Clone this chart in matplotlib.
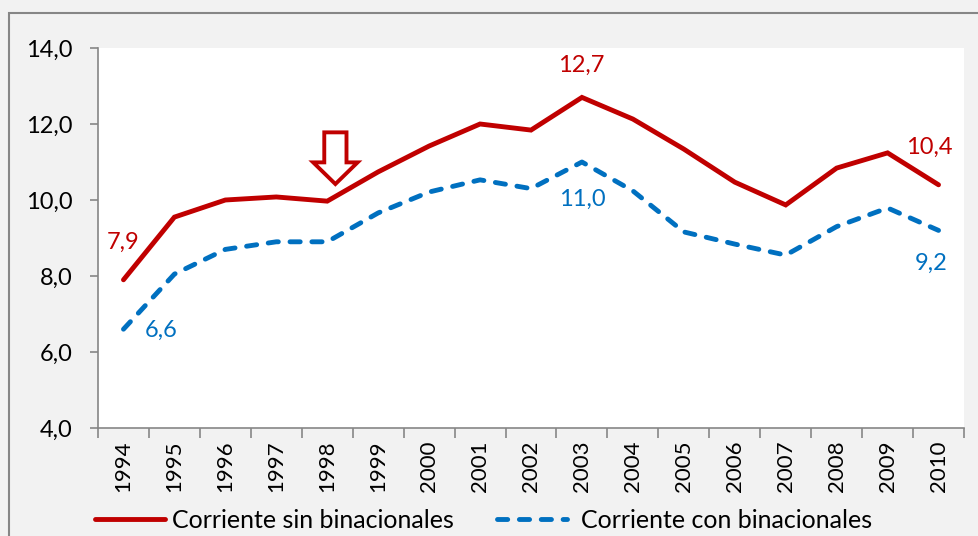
import matplotlib
matplotlib.use("Agg")
import matplotlib.pyplot as plt
from matplotlib.patches import Rectangle

plt.rcParams['font.family'] = ['Lato', 'DejaVu Sans']

years = ['1994', '1995', '1996', '1997', '1998', '1999', '2000', '2001', '2002',
         '2003', '2004', '2005', '2006', '2007', '2008', '2009', '2010']
sin_bin = [7.9, 9.55, 10.0, 10.08, 9.97, 10.74, 11.42, 12.0, 11.84, 12.7,
           12.13, 11.34, 10.47, 9.87, 10.84, 11.24, 10.4]
con_bin = [6.6, 8.05, 8.7, 8.9, 8.9, 9.66, 10.21, 10.53, 10.3, 11.0,
           10.24, 9.16, 8.84, 8.55, 9.3, 9.79, 9.2]
yticks = [4, 6, 8, 10, 12, 14]

RED = '#C00000'
BLUE = '#0070C0'
GRAY = '#868686'
FS = 17

fig = plt.figure(figsize=(9.79, 5.36), dpi=100)
fig.patch.set_facecolor('#F2F2F2')
fig.patches.append(Rectangle((9/979, -0.1), 1.1, 1 - 13/536 + 0.1, transform=fig.transFigure,
                             fill=False, edgecolor=GRAY, lw=1.5))

ax = fig.add_axes([98/979, 1 - 428/536, 866/979, 380/536])
ax.set_facecolor('white')
x = list(range(len(years)))
l1, = ax.plot(x, sin_bin, color=RED, lw=3.5, solid_joinstyle='miter', solid_capstyle='round',
              label='Corriente sin binacionales')
l2, = ax.plot(x, con_bin, color=BLUE, lw=3.5, dashes=(2.1, 2.4), dash_capstyle='round',
              label='Corriente con binacionales')

ax.set_xlim(-0.5, len(years) - 0.5)
ax.set_ylim(4, 14)
ax.set_yticks(yticks)
ax.set_yticklabels([f'{v:.1f}'.replace('.', ',') for v in yticks], fontsize=FS)
ax.set_xticks([i - 0.5 for i in range(len(years) + 1)])
ax.set_xticklabels([])
ax.set_xticks(x, minor=True)
ax.set_xticklabels(years, minor=True, rotation=90, fontsize=FS - 1)
ax.tick_params(axis='x', which='major', length=7, color=GRAY, width=1.2)
ax.tick_params(axis='x', which='minor', length=0, pad=9)
ax.tick_params(axis='y', length=6, color=GRAY, width=1.2, pad=12)
for s in ['top', 'right']:
    ax.spines[s].set_visible(False)
for s in ['left', 'bottom']:
    ax.spines[s].set_color(GRAY)
    ax.spines[s].set_linewidth(1.2)

lab = dict(fontsize=FS, ha='center', va='center', textcoords='offset points')
def fmt(v):
    return f'{v:.1f}'.replace('.', ',')
ax.annotate(fmt(sin_bin[0]), (0, sin_bin[0]), xytext=(-0.5, 27), color=RED, **lab)
ax.annotate(fmt(con_bin[0]), (0, con_bin[0]), xytext=(27, -0.5), color=BLUE, **lab)
ax.annotate(fmt(sin_bin[9]), (9, sin_bin[9]), xytext=(-0.5, 23), color=RED, **lab)
ax.annotate(fmt(con_bin[9]), (9, con_bin[9]), xytext=(0, -27), color=BLUE, **lab)
ax.annotate(fmt(sin_bin[16]), (16, sin_bin[16]), xytext=(-6.5, 27), color=RED, **lab)
ax.annotate(fmt(con_bin[16]), (16, con_bin[16]), xytext=(-5, -24), color=BLUE, **lab)

# hollow arrow pointing at 1998
ax.annotate('', xy=(4.16, 10.42), xytext=(4.16, 11.78),
            arrowprops=dict(arrowstyle='simple,head_length=0.78,head_width=1.6,tail_width=0.8',
                            fc='white', ec=RED, lw=2.8, mutation_scale=20,
                            shrinkA=0, shrinkB=0, joinstyle='miter'))

leg_kw = dict(loc='center left', frameon=False, fontsize=18, handlelength=2.8,
              borderaxespad=0, borderpad=0)
leg1 = fig.legend(handles=[l1], labels=[l1.get_label()], handletextpad=0.3,
                  bbox_to_anchor=(95/979, 1 - 520/536), **leg_kw)
leg2 = fig.legend(handles=[l2], labels=[l2.get_label()], handletextpad=0.55,
                  bbox_to_anchor=(497/979, 1 - 520/536), **leg_kw)

fig.savefig('out.png', dpi=100, facecolor=fig.get_facecolor())
